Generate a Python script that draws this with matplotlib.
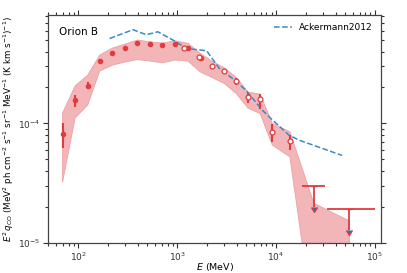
import numpy as np
import matplotlib
matplotlib.use("Agg")
import matplotlib.pyplot as plt

# filled points (first analysis)
e_fill = [69.5, 93, 125, 165, 222, 297, 396, 535, 711, 955, 1290, 1730]
q_fill = [8.1e-5, 1.57e-4, 2.07e-4, 3.33e-4, 3.91e-4, 4.28e-4, 4.71e-4, 4.65e-4, 4.51e-4, 4.63e-4, 4.31e-4, 3.51e-4]
q_fill_lo = [6.2e-5, 1.38e-4, 1.93e-4, 3.2e-4, 3.82e-4, 4.2e-4, 4.63e-4, 4.57e-4, 4.43e-4, 4.55e-4, 4.22e-4, 3.4e-4]
q_fill_hi = [1.0e-4, 1.74e-4, 2.21e-4, 3.46e-4, 4.0e-4, 4.36e-4, 4.8e-4, 4.74e-4, 4.6e-4, 4.72e-4, 4.41e-4, 3.62e-4]

# open points (second analysis)
e_open = [1167, 1680, 2250, 3000, 3960, 5220, 6900, 9180, 13800]
q_open = [4.31e-4, 3.57e-4, 3.04e-4, 2.73e-4, 2.25e-4, 1.65e-4, 1.59e-4, 8.46e-5, 7.06e-5]
q_open_lo = [4.22e-4, 3.45e-4, 2.93e-4, 2.6e-4, 2.1e-4, 1.47e-4, 1.32e-4, 7.0e-5, 6.0e-5]
q_open_hi = [4.4e-4, 3.68e-4, 3.15e-4, 2.86e-4, 2.38e-4, 1.81e-4, 1.76e-4, 9.9e-5, 8.0e-5]

# upper limits
e_ul = [24150, 55200]
e_ul_lo = [18400, 32400]
e_ul_hi = [31600, 100000]
q_ul = [2.96e-5, 1.91e-5]
q_ul_tip = [2.0e-5, 1.29e-5]

# systematic band
e_band = [69.5, 93, 125, 165, 222, 297, 396, 535, 711, 955, 1290, 1700, 2250, 3000,
          3960, 5220, 6900, 9180, 13800, 24150, 55200]
band_hi = [1.22e-4, 2.06e-4, 2.54e-4, 3.74e-4, 4.28e-4, 4.62e-4, 4.99e-4, 4.83e-4, 4.71e-4,
           4.92e-4, 4.69e-4, 3.88e-4, 3.33e-4, 2.92e-4, 2.43e-4, 1.83e-4, 1.76e-4, 1.0e-4,
           8.5e-5, 2.14e-5, 1.52e-5]
band_lo = [3.22e-5, 1.11e-4, 1.43e-4, 2.75e-4, 3.08e-4, 3.27e-4, 3.43e-4, 3.33e-4, 3.22e-4,
           3.4e-4, 3.33e-4, 2.71e-4, 2.43e-4, 2.16e-4, 1.78e-4, 1.34e-4, 1.21e-4, 6.58e-5,
           5.25e-5, 2.0e-6, 1.0e-6]

# Ackermann 2012
e_ack = [208, 358, 488, 639, 977, 1233, 1990, 2670, 3630, 4950, 7280, 9180, 13500, 17000, 46500]
q_ack = [5.15e-4, 6.1e-4, 5.54e-4, 5.86e-4, 4.83e-4, 4.25e-4, 4.06e-4, 2.89e-4, 2.38e-4,
         1.9e-4, 1.29e-4, 1.07e-4, 7.98e-5, 7.25e-5, 5.39e-5]

red = "#e03c3f"
blue = "#3a8ac8"

fig = plt.figure(figsize=(4.07, 2.73), dpi=100)
ax = fig.add_axes([0.119, 0.111, 0.817, 0.834])

ax.fill_between(e_band, band_lo, band_hi, color="#f2b6b8", edgecolor="#eea0a3", lw=0.6, zorder=1)

ax.plot(e_ack, q_ack, ls="--", color=blue, lw=1.1, label="Ackermann2012", zorder=3)

yerr_f = [np.array(q_fill) - np.array(q_fill_lo), np.array(q_fill_hi) - np.array(q_fill)]
ax.errorbar(e_fill, q_fill, yerr=yerr_f, fmt="o", color=red, ms=3, elinewidth=1.5,
            capsize=0, zorder=4)

yerr_o = [np.array(q_open) - np.array(q_open_lo), np.array(q_open_hi) - np.array(q_open)]
ax.errorbar(e_open, q_open, yerr=yerr_o, fmt="o", color=red, mfc="white", mec=red, ms=3.5,
            mew=0.9, elinewidth=1.5, capsize=0, zorder=5)

# upper limits: horizontal bin bars + downward arrows
xerr_u = [np.array(e_ul) - np.array(e_ul_lo), np.array(e_ul_hi) - np.array(e_ul)]
yerr_u = np.array(q_ul) - np.array(q_ul_tip)
ax.errorbar(e_ul, q_ul, xerr=xerr_u, fmt="none", ecolor=red, elinewidth=1.3, capsize=0, zorder=5)
ax.errorbar(e_ul, q_ul, yerr=yerr_u, uplims=True, fmt="none", ecolor=red,
            elinewidth=1.3, capsize=2.3, zorder=5)

ax.set_xscale("log")
ax.set_yscale("log")
ax.set_xlim(50, 1.15e5)
ax.set_ylim(1e-5, 8.1e-4)

ax.tick_params(which="both", direction="out", top=True, right=True, labelsize=6.5,
               colors="#333333", width=0.8, pad=2)
ax.tick_params(which="major", length=3.5)
ax.tick_params(which="minor", length=2)
for s in ax.spines.values():
    s.set_color("#444444")
    s.set_linewidth(0.9)

ax.set_xlabel("$E$ (MeV)", fontsize=6.8, labelpad=-1.5)
ax.set_ylabel(r"$E^2\,q_{\rm CO}$ (MeV$^2$ ph cm$^{-2}$ s$^{-1}$ sr$^{-1}$ MeV$^{-1}$ (K km s$^{-1}$)$^{-1}$)",
              fontsize=6.3, labelpad=2)

ax.text(0.032, 0.927, "Orion B", transform=ax.transAxes, fontsize=7.5, va="center", ha="left")
ax.legend(loc="upper right", frameon=False, fontsize=6.5, handlelength=2.0, borderaxespad=0.5)

fig.savefig("out.png", dpi=100)
